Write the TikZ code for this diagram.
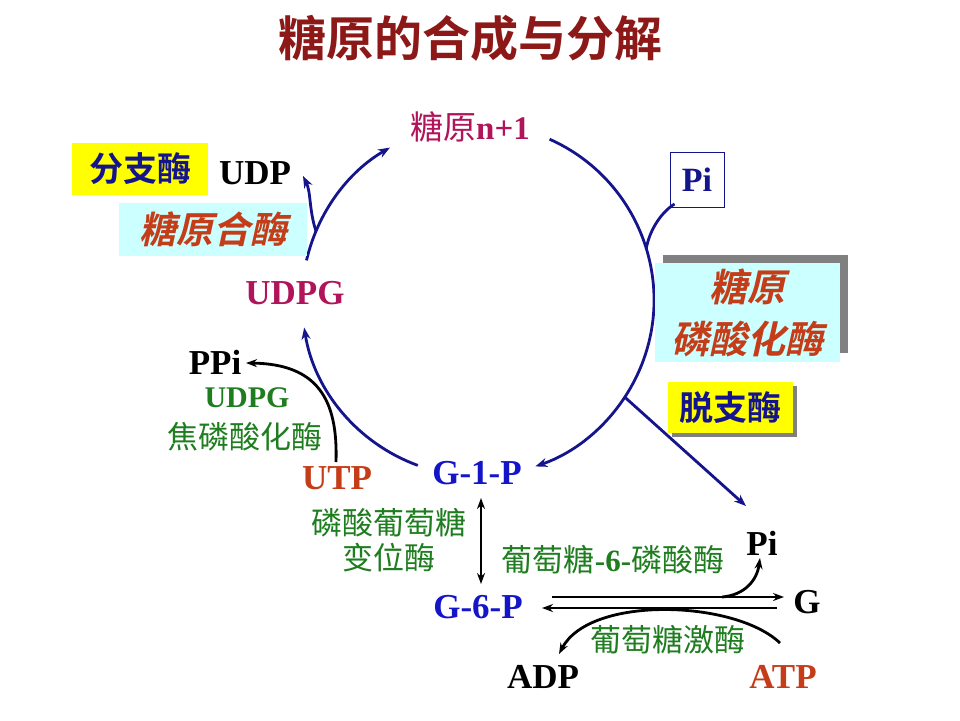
\documentclass[tikz,border=0pt]{standalone}
\usepackage{fontspec}
\setmainfont{Liberation Serif}
\newfontfamily\cjk{Noto Sans CJK SC}[BoldFont={Noto Sans CJK SC Bold}]
\newfontfamily\cjkbi{Noto Sans CJK SC Bold}[FakeSlant=0.22]
\usetikzlibrary{arrows.meta,calc}
\definecolor{cnavy}{RGB}{20,20,140}
\definecolor{ctitle}{RGB}{140,24,24}
\definecolor{cmag}{RGB}{176,20,90}
\definecolor{cgreen}{RGB}{30,125,30}
\definecolor{cblue}{RGB}{20,20,200}
\definecolor{corange}{RGB}{196,60,24}
\definecolor{ccyan}{RGB}{204,255,255}
\definecolor{cyel}{RGB}{255,255,0}
\definecolor{cshadow}{RGB}{128,128,128}
\begin{document}
\begin{tikzpicture}[x=1pt,y=-1pt,
  lat/.style={font=\fontsize{35}{40}\selectfont\bfseries, inner sep=0pt},
  zh/.style={font=\fontsize{31}{36}\selectfont\cjk, inner sep=0pt, text=cgreen},
  cyc/.style={draw=cnavy, line width=2.8pt, -{Stealth[length=12pt,width=9pt]}},
  blk/.style={draw=black, line width=2.8pt, -{Stealth[length=11pt,width=8pt]}},
  ybox/.style={fill=cyel, inner sep=0pt, font=\fontsize{34}{40}\selectfont\cjk\bfseries, text=cnavy},
  cbox/.style={fill=ccyan, inner sep=0pt, text=corange}]
\fill[white] (0,0) rectangle (960,720);
\useasboundingbox (0,0) rectangle (960,720);

% title
\node[font=\fontsize{48}{56}\selectfont\cjk\bfseries, text=ctitle, inner sep=0pt] (title) at (470,38) {糖原的合成与分解};

% circle
\coordinate (O) at (478,300);
\coordinate (a1) at ($(O)+(110:176)$);
\coordinate (a2) at ($(O)+(193:176)$);
\coordinate (a3) at ($(O)+(294:176)$);
\coordinate (bU) at ($(O)+(203:176)$);
\coordinate (bP) at ($(O)+(343:176)$);
\coordinate (bD) at ($(O)+(33.5:176)$);
\draw[cyc] (a1) arc[start angle=110, end angle=171, radius=176];
\draw[cyc] (a2) arc[start angle=193, end angle=240, radius=176];
\draw[cyc] (a3) arc[start angle=294, end angle=431, radius=176];

% boxes
\node[ybox, minimum width=136pt, minimum height=52pt] (fzm) at (140,169) {分支酶};
\node[cbox, minimum width=188pt, minimum height=53pt, font=\fontsize{37}{44}\selectfont\cjkbi] (hm) at (213,229) {糖原合酶};
\node[draw=cnavy, line width=1pt, fill=white, minimum width=54pt, minimum height=55pt, inner sep=0pt, font=\fontsize{34}{40}\selectfont\bfseries, text=cnavy] (pibox) at (697,180) {Pi};
\fill[cshadow] (663,255) rectangle (848,353);
\node[cbox, minimum width=185pt, minimum height=99pt, align=center, font=\fontsize{38}{52}\selectfont\cjkbi] (gp) at (747.5,312.5) {糖原\\磷酸化酶};
\fill[cshadow] (672,386) rectangle (797,437);
\node[ybox, minimum width=125pt, minimum height=51pt] (tzm) at (730.5,407.5) {脱支酶};

% labels
\node[font=\fontsize{33}{40}\selectfont\cjk, text=cmag, inner sep=0pt] (gn) at (470,127) {糖原{\rmfamily\bfseries n+1}};
\node[lat, text=cmag] (udpg) at (295,293) {UDPG};
\node[lat] (udp) at (255,173) {UDP};
\node[lat] (ppi) at (215,362) {PPi};
\node[font=\fontsize{30}{36}\selectfont\bfseries, text=cgreen, inner sep=0pt] (udpg2) at (247,398) {UDPG};
\node[zh] (jl) at (245,437) {焦磷酸化酶};
\node[lat, text=corange] (utp) at (337,478) {UTP};
\node[lat, text=cblue] (g1p) at (477,473) {G-1-P};
\node[zh, align=center, font=\fontsize{31}{35}\selectfont\cjk] (mut) at (389,540) {磷酸葡萄糖\\变位酶};
\node[zh] (g6pase) at (613,560) {葡萄糖{\rmfamily\bfseries -6-}磷酸酶};
\node[zh] (gk) at (668,640) {葡萄糖激酶};
\node[lat, text=cblue] (g6p) at (478,607) {G-6-P};
\node[lat] (g) at (807,602) {G};
\node[lat] (pi2) at (762,543) {Pi};
\node[lat] (adp) at (543,677) {ADP};
\node[lat, text=corange] (atp) at (783,677) {ATP};

% branches on circle
\coordinate (udpT) at (303,176);
\draw[cyc] (bU) .. controls (309,210) and (311,192) .. (udpT);
\draw[draw=cnavy, line width=2.8pt] (pibox.south west) ++(5,-4) .. controls (660,213) and (649,232) .. (bP);
\coordinate (gT) at (746,506);
\draw[cyc] (bD) -- (gT);

% UTP -> PPi
\coordinate (utpS) at (336,462);
\coordinate (ppiT) at (246,363);
\draw[blk] (utpS) .. controls (338,400) and (318,364) .. (ppiT);

% G-1-P <-> G-6-P
\coordinate (v1) at (481,498);
\coordinate (v2) at (481,584);
\draw[blk, {Stealth[length=11pt,width=8pt]}-{Stealth[length=11pt,width=8pt]}] (v1) -- (v2);

% G-6-P <-> G
\coordinate (u1) at (552,597);
\coordinate (u2) at (784,597);
\coordinate (l1) at (777,608);
\coordinate (l2) at (542,608);
\draw[blk] (u1) -- (u2);
\draw[blk] (l1) -- (l2);
\coordinate (pb) at (722,597);
\coordinate (piT) at (760,558);
\draw[blk] (pb) .. controls (745,595) and (757,580) .. (piT);
\coordinate (atpS) at (780,643);
\coordinate (adpT) at (559,654);
\draw[blk] (atpS) .. controls (735,600) and (590,595) .. (adpT);
\end{tikzpicture}
\end{document}
